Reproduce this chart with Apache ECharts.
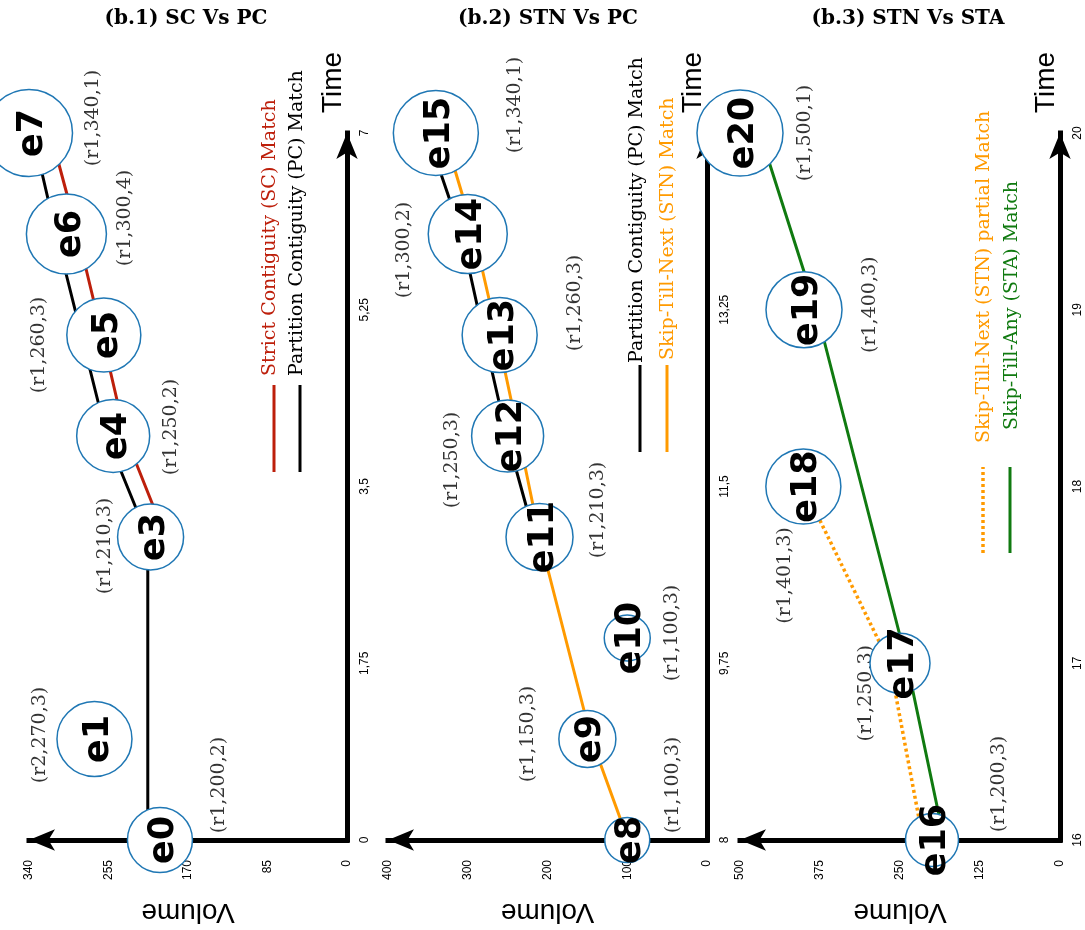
<!DOCTYPE html>
<html><head><meta charset="utf-8">
<script src="https://cdn.jsdelivr.net/npm/echarts@6/dist/echarts.min.js"></script>
<style>html,body{margin:0;padding:0;background:#fff}#c{width:1085px;height:930px}</style>
</head><body><div id="c"></div>
<script>
// ---------- titles ----------
const panelTitles = ['(b.1) SC Vs PC', '(b.2) STN Vs PC', '(b.3) STN Vs STA'];

// ---------- axis ticks ----------
const volTicks1 = [0, 85, 170, 255, 340];
const volTicks2 = [0, 100, 200, 300, 400];
const volTicks3 = [0, 125, 250, 375, 500];
const timeTicks1 = [0, 1.75, 3.5, 5.25, 7];
const timeTicks2 = [8, 9.75, 11.5, 13.25, 15];
const timeTicks3 = [16, 17, 18, 19, 20];

// ---------- panel 1 events ----------
const events1 = ['e0', 'e1', 'e3', 'e4', 'e5', 'e6', 'e7'];
const times1 = [0, 1, 3, 4, 5, 6, 7];
const vols1 = [200, 270, 210, 250, 260, 300, 340];
const regions1 = ['r1', 'r2', 'r1', 'r1', 'r1', 'r1', 'r1'];
const counts1 = [2, 3, 3, 2, 3, 4, 1];
// panel 1 match lines (as drawn)
const pcTimes1 = [0, 3, 4, 5, 6, 7];
const pcVols1 = [213, 213, 257, 284, 311, 336];
const scTimes1 = [3, 4, 5, 6, 7];
const scVols1 = [194, 237, 262, 288, 317];

// ---------- panel 2 events ----------
const events2 = ['e8', 'e9', 'e10', 'e11', 'e12', 'e13', 'e14', 'e15'];
const times2 = [8, 9, 10, 11, 12, 13, 14, 15];
const vols2 = [100, 150, 100, 210, 250, 260, 300, 340];
const regions2 = ['r1', 'r1', 'r1', 'r1', 'r1', 'r1', 'r1', 'r1'];
const counts2 = [3, 3, 3, 3, 3, 3, 2, 1];
const pcTimes2 = [11, 12, 13, 14, 15];
const pcVols2 = [216, 251, 280, 308, 351];
const stnTimes2 = [8, 9, 11, 12, 13, 14, 15];
const stnVols2 = [99, 145, 210, 236, 263, 292, 330];

// ---------- panel 3 events ----------
const events3 = ['e16', 'e17', 'e18', 'e19', 'e20'];
const times3 = [16, 17, 18, 19, 20];
const vols3 = [200, 250, 401, 400, 500];
const regions3 = ['r1', 'r1', 'r1', 'r1', 'r1'];
const counts3 = [3, 3, 3, 3, 1];
const staTimes3 = [16, 17, 19, 20];
const staVols3 = [181, 239, 381, 469];
const stnTimes3 = [16, 17, 18];
const stnVols3 = [214, 266, 401];

// ---------- legend texts ----------
const legend1 = ['Strict Contiguity (SC) Match', 'Partition Contiguity (PC) Match'];
const legend2 = ['Partition Contiguity (PC) Match', 'Skip-Till-Next (STN) Match'];
const legend3 = ['Skip-Till-Next (STN) partial Match', 'Skip-Till-Any (STA) Match'];

// ---------- styles (not data) ----------
const RED = '#bd1f0b', ORANGE = '#ff9a00', GREEN = '#107a10', BLUE = '#1f77b4';
const circleSizes = [[65, 75, 66, 73, 74, 80, 87], [45, 57, 46, 67, 72, 75, 79, 85], [53, 60, 75, 76, 86]];
// screen-space offsets of the "(r,vol,count)" annotations from their event
const annOffsets = [
  [[59, -55], [-54, -4], [-46, 9], [58, -9], [-65, 10], [59, -16], [64, -15]],
  [[46, -55], [-59, -5], [45, -5], [59, -27], [-56, 24], [75, -32], [-64, 16], [79, -28]],
  [[67, -56], [-34, 30], [-18, 89], [66, -5], [65, 0]]
];
const grids = [
  { left: 29, right: 738, top: 133, bottom: 90 },
  { left: 388, right: 378, top: 133, bottom: 90 },
  { left: 740, right: 25, top: 133, bottom: 90 }
];
const titleX = [181, 543, 903];
// labels are rotated 90deg CCW, so a screen offset [sx, sy] is [-sy, sx] in label space
const toLocal = (o) => [-o[1], o[0]];

const volTicks = [volTicks1, volTicks2, volTicks3];
const timeTicks = [timeTicks1, timeTicks2, timeTicks3];
const panels = [
  { ev: events1, t: times1, v: vols1, r: regions1, c: counts1 },
  { ev: events2, t: times2, v: vols2, r: regions2, c: counts2 },
  { ev: events3, t: times3, v: vols3, r: regions3, c: counts3 }
];
const lines = [
  { p: 0, t: pcTimes1, v: pcVols1, color: '#000', type: 'solid' },
  { p: 0, t: scTimes1, v: scVols1, color: RED, type: 'solid' },
  { p: 1, t: stnTimes2, v: stnVols2, color: ORANGE, type: 'solid' },
  { p: 1, t: pcTimes2, v: pcVols2, color: '#000', type: 'solid' },
  { p: 2, t: stnTimes3, v: stnVols3, color: ORANGE, type: [3, 3] },
  { p: 2, t: staTimes3, v: staVols3, color: GREEN, type: 'solid' }
];

const series = [];
lines.forEach(l => {
  series.push({
    type: 'line', xAxisIndex: l.p, yAxisIndex: l.p, silent: true, clip: false,
    symbol: 'none', showSymbol: false, z: 2,
    lineStyle: { color: l.color, width: l.type === 'solid' ? 3 : 3.5, type: l.type },
    data: l.v.map((v, i) => [v, l.t[i]])
  });
});
panels.forEach((P, p) => {
  // annotations (below circles)
  series.push({
    type: 'scatter', xAxisIndex: p, yAxisIndex: p, silent: true, clip: false, z: 3,
    symbolSize: 1, itemStyle: { color: 'rgba(0,0,0,0)' },
    data: P.v.map((v, i) => ({ value: [v, P.t[i]], label: { offset: toLocal(annOffsets[p][i]) } })),
    label: {
      show: true, position: 'inside', rotate: 90,
      formatter: (q) => '(' + P.r[q.dataIndex] + ',' + P.v[q.dataIndex] + ',' + P.c[q.dataIndex] + ')',
      fontFamily: 'DejaVu Serif', fontSize: 19, color: '#000'
    }
  });
  // event circles
  series.push({
    type: 'scatter', xAxisIndex: p, yAxisIndex: p, silent: true, clip: false, z: 4,
    symbol: 'circle',
    symbolSize: (val, q) => circleSizes[p][q.dataIndex],
    itemStyle: { color: '#fff', borderColor: BLUE, borderWidth: 1.5, opacity: 1 },
    data: P.v.map((v, i) => [v, P.t[i]]),
    label: {
      show: true, position: 'inside', rotate: 90, offset: toLocal([4, 0]),
      formatter: (q) => P.ev[q.dataIndex],
      fontFamily: 'DejaVu Sans', fontWeight: 'bold', fontSize: 35, color: '#000'
    }
  });
});

const axisLineBase = { show: true, onZero: false, symbolSize: [16, 26], lineStyle: { color: '#000', width: 5, cap: 'square' } };

const xAxis = volTicks.map((tk, i) => ({
  type: 'value', gridIndex: i, inverse: true, position: 'bottom',
  min: tk[0], max: tk[tk.length - 1], interval: tk[1] - tk[0],
  name: 'Volume', nameLocation: 'middle', nameGap: 72, nameRotate: 180,
  nameTextStyle: { fontFamily: 'Liberation Sans', fontSize: 28, color: '#000', align: 'center', verticalAlign: 'middle' },
  axisLine: Object.assign({}, axisLineBase, { symbol: ['arrow', 'none'] }),
  axisTick: { show: false }, splitLine: { show: false },
  axisLabel: { rotate: 90, margin: 20, fontSize: 12, fontFamily: 'Liberation Sans', color: '#000', showMinLabel: true, showMaxLabel: true }
}));
const yAxis = timeTicks.map((tk, i) => ({
  type: 'value', gridIndex: i, position: 'right',
  min: tk[0], max: tk[tk.length - 1], interval: tk[1] - tk[0],
  name: 'Time', nameLocation: 'end', nameGap: 20, nameRotate: 90,
  nameTextStyle: { fontFamily: 'Liberation Sans', fontSize: 28, color: '#000', align: 'left', verticalAlign: 'bottom' },
  axisLine: Object.assign({}, axisLineBase, { symbol: ['none', 'arrow'] }),
  axisTick: { show: false }, splitLine: { show: false },
  axisLabel: { rotate: 90, margin: 12, fontSize: 12, fontFamily: 'Liberation Sans', color: '#000', showMinLabel: true, showMaxLabel: true,
    formatter: (v) => String(+v.toFixed(2)).replace('.', ',') }
}));

// legend graphics (rotated)
const legendItems = [
  { text: legend1[0], color: RED, lineX: 274, textX: 270, textY: 376, lineY: [472, 385], dash: null },
  { text: legend1[1], color: '#000', lineX: 300, textX: 297, textY: 376, lineY: [472, 385], dash: null },
  { text: legend2[0], color: '#000', lineX: 640, textX: 637, textY: 363, lineY: [452, 365], dash: null },
  { text: legend2[1], color: ORANGE, lineX: 667, textX: 668, textY: 360, lineY: [452, 365], dash: null },
  { text: legend3[0], color: ORANGE, lineX: 983, textX: 984, textY: 443, lineY: [553, 467], dash: [3, 3] },
  { text: legend3[1], color: GREEN, lineX: 1010, textX: 1012, textY: 430, lineY: [553, 467], dash: null }
];
const graphic = [];
legendItems.forEach(it => {
  graphic.push({
    type: 'line', silent: true, z: 10,
    shape: { x1: it.lineX, y1: it.lineY[0], x2: it.lineX, y2: it.lineY[1] },
    style: { stroke: it.color, lineWidth: it.dash ? 3.5 : 3, lineDash: it.dash || null }
  });
  graphic.push({
    type: 'text', silent: true, z: 10, x: it.textX, y: it.textY, rotation: Math.PI / 2,
    style: { text: it.text, fill: it.color, font: '19px "DejaVu Serif"',
      textAlign: 'left', textVerticalAlign: 'middle', align: 'left', verticalAlign: 'middle' }
  });
});

const option = {
  animation: false,
  backgroundColor: '#fff',
  title: panelTitles.map((t, i) => ({
    text: t, left: titleX[i], top: 4, textAlign: 'center',
    textStyle: { fontFamily: 'DejaVu Serif', fontWeight: 'bold', fontSize: 20, color: '#000' }
  })),
  grid: grids.map(g => Object.assign({ containLabel: false, outerBoundsMode: 'none' }, g)),
  xAxis, yAxis, series, graphic
};
const chart = echarts.init(document.getElementById('c'), null, { renderer: 'canvas' });
chart.setOption(option);
</script></body></html>
